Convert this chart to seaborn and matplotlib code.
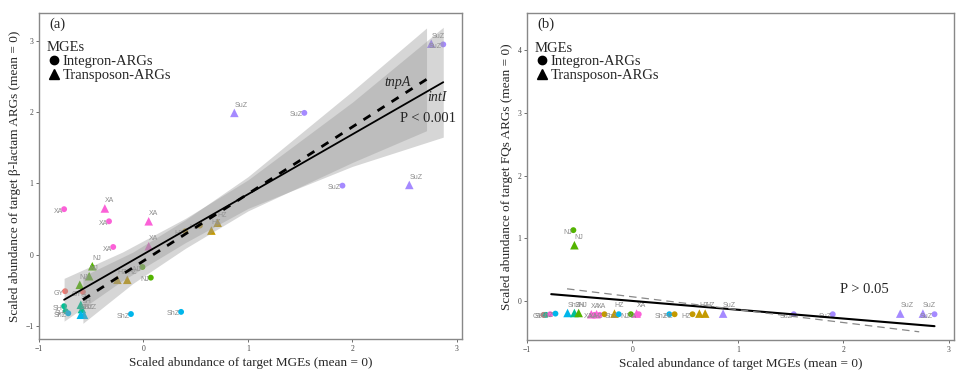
import matplotlib

matplotlib.use("Agg")
import matplotlib.pyplot as plt
import numpy as np
import pandas as pd
import seaborn as sns
from matplotlib.lines import Line2D

# panel (a): beta-lactam ARGs vs MGEs
a_site = ["SuZ", "SuZ", "SuZ", "SuZ", "SuZ", "SuZ",
          "XA", "XA", "XA", "XA", "XA", "XA",
          "HZ", "HZ", "HZ", "HZ", "HZ", "HZ",
          "NJ", "NJ", "NJ", "NJ", "NJ",
          "GY", "GY",
          "SH", "SH", "SH", "SH",
          "ShZ", "ShZ", "ShZ", "ShZ", "ShZ"]
a_mge = ["T", "I", "T", "I", "I", "T",
         "I", "T", "I", "T", "I", "T",
         "T", "T", "I", "I", "T", "T",
         "T", "T", "T", "I", "I",
         "I", "I",
         "I", "I", "T", "T",
         "I", "T", "T", "I", "I"]
a_x = [2.755, 2.87, 0.87, 1.54, 1.905, 2.545,
       -0.76, -0.37, -0.33, 0.05, -0.29, 0.05,
       0.71, 0.65, 0.54, 0.40, -0.25, -0.155,
       -0.49, -0.52, -0.61, -0.01, 0.07,
       -0.75, -0.58,
       -0.76, -0.745, -0.60, -0.59,
       -0.72, -0.60, -0.57, -0.12, 0.36]
a_y = [2.96, 2.95, 1.99, 1.99, 0.97, 0.98,
       0.64, 0.65, 0.47, 0.47, 0.11, 0.12,
       0.45, 0.34, 0.41, 0.33, -0.35, -0.35,
       -0.16, -0.30, -0.42, -0.17, -0.32,
       -0.51, -0.52,
       -0.72, -0.79, -0.70, -0.76,
       -0.82, -0.84, -0.84, -0.83, -0.80]

# panel (b): FQs ARGs vs MGEs
b_site = ["GY", "SH", "XA", "ShZ", "ShZ", "SH", "NJ",
          "XA", "XA", "XA", "XA", "HZ", "HZ", "ShZ", "NJ", "XA", "XA",
          "ShZ", "HZ", "HZ", "HZ", "HZ",
          "SuZ", "SuZ", "SuZ", "SuZ", "SuZ", "SuZ",
          "NJ", "NJ"]
b_mge = ["I", "I", "I", "I", "T", "T", "T",
         "T", "T", "I", "I", "I", "T", "I", "I", "T", "I",
         "I", "I", "I", "T", "T",
         "T", "I", "I", "T", "T", "I",
         "I", "T"]
b_x = [-0.84, -0.82, -0.78, -0.73, -0.615, -0.55, -0.51,
       -0.39, -0.34, -0.36, -0.31, -0.265, -0.17, -0.13, -0.015, 0.04, 0.06,
       0.35, 0.40, 0.57, 0.635, 0.69,
       0.86, 1.53, 1.90, 2.54, 2.755, 2.865,
       -0.56, -0.55]
b_y = [-0.22, -0.22, -0.21, -0.20, -0.19, -0.19, -0.19,
       -0.21, -0.21, -0.22, -0.22, -0.21, -0.20, -0.21, -0.21, -0.20, -0.21,
       -0.21, -0.21, -0.21, -0.20, -0.20,
       -0.20, -0.21, -0.21, -0.20, -0.20, -0.21,
       1.13, 0.89]

# fitted lines
a_intI_x, a_intI_y = [-0.76, 2.87], [-0.63, 2.42]
a_tnpA_x, a_tnpA_y = [-0.58, 2.71], [-0.63, 2.46]
a_intI_band_x = [-0.76, -0.2, 0.4, 1.0, 2.0, 2.87]
a_intI_band_lo = [-0.93, -0.36, 0.17, 0.65, 1.24, 1.65]
a_intI_band_hi = [-0.33, 0.04, 0.51, 1.05, 2.14, 3.19]
a_tnpA_band_x = [-0.58, -0.1, 0.4, 1.0, 2.0, 2.71]
a_tnpA_band_lo = [-0.96, -0.40, 0.09, 0.615, 1.295, 1.74]
a_tnpA_band_hi = [-0.30, 0.04, 0.49, 1.095, 2.295, 3.18]
b_intI_x, b_intI_y = [-0.77, 2.865], [0.11, -0.40]
b_tnpA_x, b_tnpA_y = [-0.62, 2.72], [0.195, -0.49]

sites = ["GY", "HZ", "NJ", "SH", "ShZ", "SuZ", "XA"]
site_colors = ["#F8766D", "#C49A00", "#53B400", "#00C094", "#00B6EB", "#A58AFF", "#FB61D7"]
mge_names = {"I": "Integron-ARGs", "T": "Transposon-ARGs"}

sns.set_theme(style="white")
serif = ["Liberation Serif", "DejaVu Serif"]
plt.rcParams["font.family"] = serif


def make_frame(site, mge, x, y):
    return pd.DataFrame({"site": site, "mge": [mge_names[m] for m in mge], "x": x, "y": y})


def draw_points(ax, df):
    sns.scatterplot(
        data=df, x="x", y="y", hue="site", hue_order=sites, palette=site_colors,
        style="mge", markers={"Integron-ARGs": "o", "Transposon-ARGs": "^"},
        size="mge", sizes={"Integron-ARGs": 18, "Transposon-ARGs": 38},
        linewidth=0, legend=False, ax=ax, zorder=2,
    )
    for _, r in df.iterrows():
        if r["mge"] == "Integron-ARGs":
            ax.annotate(r["site"], (r["x"], r["y"]), xytext=(-1, 1), textcoords="offset points",
                        ha="right", va="top", fontsize=5, color="#8c8c8c",
                        family=["Liberation Sans", "DejaVu Sans"], zorder=2)
        else:
            ax.annotate(r["site"], (r["x"], r["y"]), xytext=(0, 3), textcoords="offset points",
                        ha="left", va="bottom", fontsize=5, color="#8c8c8c",
                        family=["Liberation Sans", "DejaVu Sans"], zorder=2)


def style_axes(ax, ylim, yticks, ylabel, tag):
    ax.set_xlim(-1.0, 3.05)
    ax.set_ylim(*ylim)
    ax.set_xticks([-1, 0, 1, 2, 3])
    ax.set_yticks(yticks)
    ax.tick_params(axis="both", length=2.5, width=0.6, color="#555555", labelsize=5.5,
                   labelcolor="#444444", pad=1.5, direction="out", bottom=True, left=True)
    for s in ax.spines.values():
        s.set_color("#888888")
        s.set_linewidth(1.0)
    ax.set_xlabel("Scaled abundance of target MGEs (mean = 0)", fontsize=9.5, labelpad=3)
    ax.set_ylabel(ylabel, fontsize=9.5, labelpad=3)
    ax.text(0.025, 0.985, tag, transform=ax.transAxes, fontsize=10.5, va="top", ha="left")
    handles = [
        Line2D([], [], marker="o", color="black", linestyle="", markersize=6),
        Line2D([], [], marker="^", color="black", linestyle="", markersize=7),
    ]
    leg = ax.legend(handles, ["Integron-ARGs", "Transposon-ARGs"], title="MGEs", loc="upper left",
                    bbox_to_anchor=(0.0, 0.935), frameon=False, fontsize=10.5, title_fontsize=10.5,
                    handletextpad=0.1, handlelength=1.0, labelspacing=0.05, borderaxespad=0.3,
                    borderpad=0.2)
    leg._legend_box.align = "left"


fig = plt.figure(figsize=(9.59, 3.74), dpi=100)
ax_a = fig.add_axes([0.0407, 0.0936, 0.4411, 0.8716])
ax_b = fig.add_axes([0.5495, 0.0910, 0.4453, 0.8742])

# (a)
df_a = make_frame(a_site, a_mge, a_x, a_y)
draw_points(ax_a, df_a)
ax_a.fill_between(a_intI_band_x, a_intI_band_lo, a_intI_band_hi, color="#999999", alpha=0.4,
                  linewidth=0, zorder=3)
ax_a.fill_between(a_tnpA_band_x, a_tnpA_band_lo, a_tnpA_band_hi, color="#999999", alpha=0.4,
                  linewidth=0, zorder=3)
sns.lineplot(x=a_intI_x, y=a_intI_y, color="black", linewidth=1.3, ax=ax_a, zorder=4)
sns.lineplot(x=a_tnpA_x, y=a_tnpA_y, color="black", linewidth=2.0, ax=ax_a, zorder=4,
             dashes=False, linestyle=(0, (3, 3)))
ax_a.text(2.43, 2.41, "tnpA", style="italic", fontsize=10, ha="center", va="center", zorder=5)
ax_a.text(2.81, 2.2, "intI", style="italic", fontsize=10, ha="center", va="center", zorder=5)
ax_a.text(2.72, 1.91, "P < 0.001", fontsize=10.5, ha="center", va="center", zorder=5)
style_axes(ax_a, (-1.18, 3.39), [-1, 0, 1, 2, 3],
           "Scaled abundance of target β-lactam ARGs (mean = 0)", "(a)")

# (b)
df_b = make_frame(b_site, b_mge, b_x, b_y)
draw_points(ax_b, df_b)
sns.lineplot(x=b_intI_x, y=b_intI_y, color="black", linewidth=1.5, ax=ax_b, zorder=4)
sns.lineplot(x=b_tnpA_x, y=b_tnpA_y, color="#888888", linewidth=0.9, ax=ax_b, zorder=4,
             linestyle=(0, (6, 4)))
ax_b.text(2.20, 0.19, "P > 0.05", fontsize=10.5, ha="center", va="center", zorder=5)
style_axes(ax_b, (-0.62, 4.59), [0, 1, 2, 3, 4],
           "Scaled abundance of target FQs ARGs (mean = 0)", "(b)")

fig.savefig("out.png", dpi=100)
